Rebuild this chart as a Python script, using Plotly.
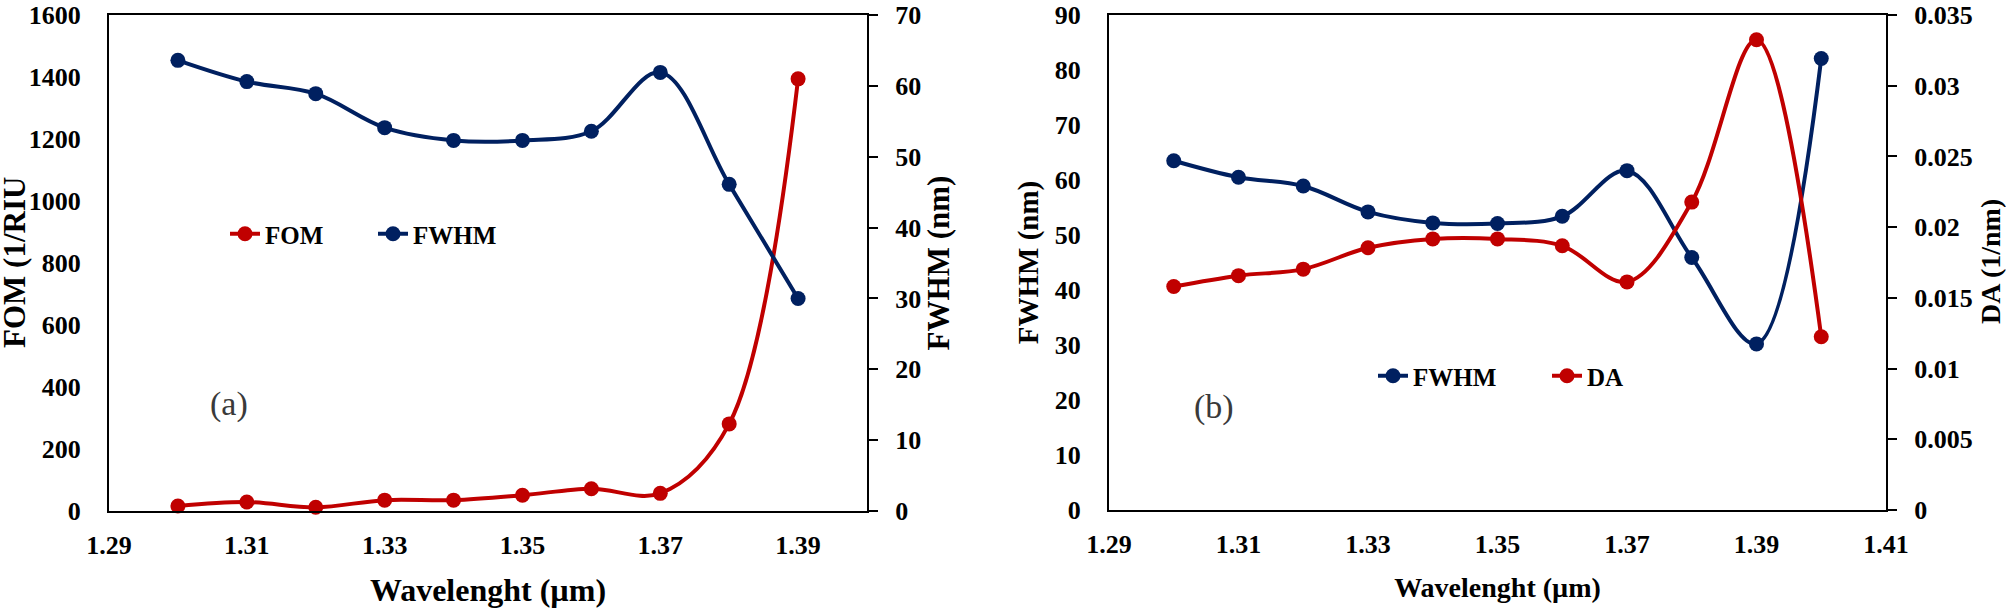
import plotly.graph_objects as go

# ---------------- data ----------------
wl_a = [1.30, 1.31, 1.32, 1.33, 1.34, 1.35, 1.36, 1.37, 1.38, 1.39]
fom_a = [16, 29, 12, 35, 35, 51, 72, 57, 281, 1394]
fwhm_a = [63.6, 60.6, 58.9, 54.1, 52.3, 52.3, 53.6, 61.9, 46.1, 30.0]

wl_b = [1.30, 1.31, 1.32, 1.33, 1.34, 1.35, 1.36, 1.37, 1.38, 1.39, 1.40]
fwhm_b = [63.5, 60.5, 58.9, 54.2, 52.2, 52.1, 53.4, 61.7, 45.9, 30.2, 82.1]
da_b = [0.0158, 0.01657, 0.01703, 0.01854, 0.01917, 0.01917, 0.01868,
        0.01613, 0.02177, 0.03325, 0.01225]

x_ticks_a = [1.29, 1.31, 1.33, 1.35, 1.37, 1.39]
x_ticks_b = [1.29, 1.31, 1.33, 1.35, 1.37, 1.39, 1.41]
da_tickvals = [0, 0.005, 0.01, 0.015, 0.02, 0.025, 0.03, 0.035]
da_ticktext = ["0", "0.005", "0.01", "0.015", "0.02", "0.025", "0.03", "0.035"]

RED = "#C00000"
NAVY = "#002060"
FONT = "Liberation Serif"
W, H = 2006, 611

fig = go.Figure()

def line_trace(x, y, name, color, xaxis, yaxis, legend):
    return go.Scatter(
        x=x, y=y, name=name, mode="lines+markers",
        line=dict(color=color, width=4, shape="spline", smoothing=1.0),
        marker=dict(color=color, size=15),
        xaxis=xaxis, yaxis=yaxis, legend=legend, cliponaxis=False,
        showlegend=True,
    )

fig.add_trace(line_trace(wl_a, fom_a, "FOM", RED, "x", "y", "legend"))
fig.add_trace(line_trace(wl_a, fwhm_a, "FWHM", NAVY, "x", "y2", "legend2"))
fig.add_trace(line_trace(wl_b, fwhm_b, "FWHM", NAVY, "x2", "y3", "legend3"))
fig.add_trace(line_trace(wl_b, da_b, "DA", RED, "x2", "y4", "legend4"))

tickfont = dict(family=FONT, size=26, color="black", weight="bold")

def tfont(size):
    return dict(family=FONT, size=size, color="black", weight="bold")

def xa(domain, rng, ticks, title, tsize, anchor, standoff):
    return dict(
        domain=domain, range=rng, tickvals=ticks, ticktext=[f"{t:.2f}" for t in ticks],
        showline=True, linecolor="black", linewidth=2, mirror=True,
        ticks="", showgrid=False, zeroline=False, tickfont=tickfont,
        ticklabelstandoff=10, ticklabeloverflow="allow", anchor=anchor, automargin=False,
        title=dict(text=title, font=tfont(tsize), standoff=standoff),
    )

def ya(domain, rng, dtick, title, tsize, anchor, side="left", overlaying=None,
       tickvals=None, ticktext=None, standoff=14):
    d = dict(
        domain=domain, range=rng, showline=True, linecolor="black", linewidth=2,
        showgrid=False, zeroline=False, tickfont=tickfont, anchor=anchor, side=side,
        automargin=False, ticklabeloverflow="allow",
    )
    if title:
        d["title"] = dict(text=title, font=tfont(tsize), standoff=standoff)
    if tickvals is not None:
        d.update(tickvals=tickvals, ticktext=ticktext)
    else:
        d.update(tick0=0, dtick=dtick)
    if side == "right":
        d.update(ticks="outside", ticklen=9, tickwidth=2, tickcolor="black",
                 ticklabelstandoff=12)
    else:
        d.update(ticks="", ticklabelstandoff=21)
    if overlaying:
        d["overlaying"] = overlaying
    return d

TOP_A, BOT_A = 15, 511
TOP_B, BOT_B = 15, 510
dom_xa = [109 / W, 867 / W]
dom_ya = [1 - BOT_A / H, 1 - TOP_A / H]
dom_xb = [1109 / W, 1886 / W]
dom_yb = [1 - BOT_B / H, 1 - TOP_B / H]

leg_common = dict(orientation="h", xanchor="left", yanchor="middle",
                  bgcolor="rgba(0,0,0,0)", borderwidth=0,
                  font=dict(family=FONT, size=25, color="black", weight="bold"))

fig.update_layout(
    width=W, height=H,
    margin=dict(l=0, r=0, t=0, b=0),
    showlegend=True,
    paper_bgcolor="white", plot_bgcolor="white",
    xaxis=xa(dom_xa, [1.29, 1.40], x_ticks_a, "Wavelenght (µm)", 32, "y", 19),
    yaxis=ya(dom_ya, [0, 1600], 200, None, 31, "x"),
    yaxis2=ya(dom_ya, [0, 70], 10, "FWHM (nm)", 31, "x", side="right",
              overlaying="y", standoff=3),
    xaxis2=xa(dom_xb, [1.29, 1.41], x_ticks_b, "Wavelenght (µm)", 28, "y3", 19),
    yaxis3=ya(dom_yb, [0, 90], 10, "FWHM (nm)", 29, "x2", standoff=8),
    yaxis4=ya(dom_yb, [0, 0.035], None, None, 28, "x2", side="right",
              overlaying="y3", tickvals=da_tickvals, ticktext=da_ticktext),
    legend=dict(x=225 / W, y=1 - 234 / H, **leg_common),
    legend2=dict(x=373 / W, y=1 - 234 / H, **leg_common),
    legend3=dict(x=1373 / W, y=1 - 376 / H, **leg_common),
    legend4=dict(x=1547 / W, y=1 - 376 / H, **leg_common),
    annotations=[
        dict(text="FOM (1/RIU", x=14 / W, y=1 - 263 / H, xref="paper", yref="paper",
             xanchor="center", yanchor="middle", textangle=-90, showarrow=False,
             font=tfont(31)),
        dict(text="DA (1/nm)", x=1990 / W, y=1 - 262 / H, xref="paper", yref="paper",
             xanchor="center", yanchor="middle", textangle=-90, showarrow=False,
             font=tfont(28)),
        dict(text="(a)", x=229 / W, y=1 - 404 / H, xref="paper", yref="paper",
             xanchor="center", yanchor="middle",
             showarrow=False, font=dict(family=FONT, size=34, color="#3a3a3a")),
        dict(text="(b)", x=1214 / W, y=1 - 407 / H, xref="paper", yref="paper",
             xanchor="center", yanchor="middle",
             showarrow=False, font=dict(family=FONT, size=34, color="#3a3a3a")),
    ],
)

fig.write_html(
    "out.html",
    config={"displayModeBar": False},
    post_script="document.body.style.margin='0';document.body.style.overflow='hidden';",
)
